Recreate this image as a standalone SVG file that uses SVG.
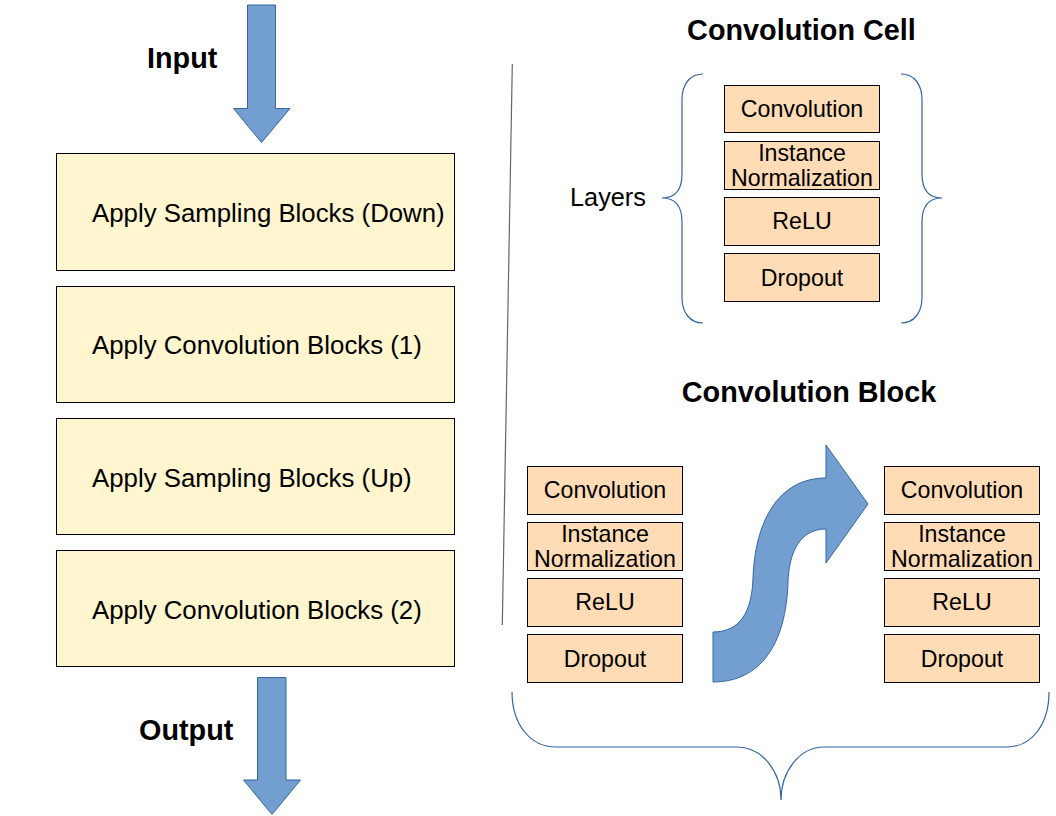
<svg xmlns="http://www.w3.org/2000/svg" width="1056" height="816" viewBox="0 0 1056 816">
<style>
.bg{fill:#ffffff}
.step{fill:#fff5ce;stroke:#000;stroke-width:1}
.layer{fill:#ffdbb6;stroke:#000;stroke-width:1}
.arrow{fill:#729fcf;stroke:#3465a4;stroke-width:1}
.brace{fill:none;stroke:#3465a4;stroke-width:1.2}
.t{font-family:"Liberation Sans",Arial,sans-serif;fill:#000}
.st{font-size:25.8px}
.lt{font-size:23.2px;text-anchor:middle}
.title{font-size:28.8px;font-weight:bold}
</style>
<rect class="bg" x="0" y="0" width="1056" height="816"/>

<g id="connectors">
  <path id="arrow-in" class="arrow" d="M247.5 5 L275.5 5 L275.5 108.5 L290 108.5 L261.5 142.5 L233.5 108.5 L247.5 108.5 Z"/>
  <path id="arrow-out" class="arrow" d="M257.5 677.5 L286 677.5 L286 780 L300.5 780 L272 814.5 L243.5 780 L257.5 780 Z"/>
  <path id="arrow-s" class="arrow" d="M713 632 C740 632 752 612 753 578 C755 522 778 478 826 478 L826 445 L868 504 L826 563 L826 529 C800 529 789 552 788 582 C786 645 760 682 713 682 Z"/>
  <line id="divider" x1="512.3" y1="64" x2="502.3" y2="625" stroke="#666" stroke-width="1.2"/>
  <path id="brace-cell-left" class="brace" d="M703 74 C690 74 682 84 682 100 L682 174 C682 190 675 198 662 198 C675 198 682 206 682 222 L682 297 C682 313 690 323 703 323"/>
  <path id="brace-cell-right" class="brace" d="M901 74 C914 74 922 84 922 100 L922 174 C922 190 929 198 942 198 C929 198 922 206 922 222 L922 297 C922 313 914 323 901 323"/>
  <path id="brace-block" class="brace" d="M512 692 C512 724 530 747 556 747 L737 747 C762 747 781 771 781 800 C781 771 800 747 824 747 L1007 747 C1032 747 1049 724 1049 692"/>
</g>

<text id="label-input" class="t title" x="147" y="68">Input</text>
<text id="label-output" class="t title" x="139" y="740">Output</text>
<text id="title-cell" class="t title" x="801.5" y="40" text-anchor="middle">Convolution Cell</text>
<text id="title-block" class="t title" x="809" y="401.5" text-anchor="middle">Convolution Block</text>
<text id="label-layers" class="t" x="570" y="206" font-size="25.3">Layers</text>

<g id="step-down"><rect class="step" x="56.5" y="153.5" width="398" height="117"/><text class="t st" x="92" y="222">Apply Sampling Blocks (Down)</text></g>
<g id="step-conv1"><rect class="step" x="56.5" y="286.5" width="398" height="116"/><text class="t st" x="92" y="354">Apply Convolution Blocks (1)</text></g>
<g id="step-up"><rect class="step" x="56.5" y="418.5" width="398" height="116"/><text class="t st" x="92" y="486.5">Apply Sampling Blocks (Up)</text></g>
<g id="step-conv2"><rect class="step" x="56.5" y="550.5" width="398" height="116"/><text class="t st" x="92" y="618.5">Apply Convolution Blocks (2)</text></g>

<g id="cell-conv"><rect class="layer" x="724.5" y="85.5" width="155" height="47"/><text class="t lt" x="802" y="117">Convolution</text></g>
<g id="cell-norm"><rect class="layer" x="724.5" y="141.5" width="155" height="48"/><text class="t lt" x="802" y="160.5">Instance</text><text class="t lt" x="802" y="185.5">Normalization</text></g>
<g id="cell-relu"><rect class="layer" x="724.5" y="197.5" width="155" height="48"/><text class="t lt" x="802" y="229">ReLU</text></g>
<g id="cell-drop"><rect class="layer" x="724.5" y="253.5" width="155" height="48"/><text class="t lt" x="802" y="285.5">Dropout</text></g>

<g id="blockA-conv"><rect class="layer" x="527.5" y="466.5" width="155" height="48"/><text class="t lt" x="605" y="498">Convolution</text></g>
<g id="blockA-norm"><rect class="layer" x="527.5" y="522.5" width="155" height="48"/><text class="t lt" x="605" y="541.5">Instance</text><text class="t lt" x="605" y="566.5">Normalization</text></g>
<g id="blockA-relu"><rect class="layer" x="527.5" y="578.5" width="155" height="48"/><text class="t lt" x="605" y="610">ReLU</text></g>
<g id="blockA-drop"><rect class="layer" x="527.5" y="634.5" width="155" height="48"/><text class="t lt" x="605" y="666.5">Dropout</text></g>

<g id="blockB-conv"><rect class="layer" x="884.5" y="466.5" width="155" height="48"/><text class="t lt" x="962" y="498">Convolution</text></g>
<g id="blockB-norm"><rect class="layer" x="884.5" y="522.5" width="155" height="48"/><text class="t lt" x="962" y="541.5">Instance</text><text class="t lt" x="962" y="566.5">Normalization</text></g>
<g id="blockB-relu"><rect class="layer" x="884.5" y="578.5" width="155" height="48"/><text class="t lt" x="962" y="610">ReLU</text></g>
<g id="blockB-drop"><rect class="layer" x="884.5" y="634.5" width="155" height="48"/><text class="t lt" x="962" y="666.5">Dropout</text></g>
</svg>
